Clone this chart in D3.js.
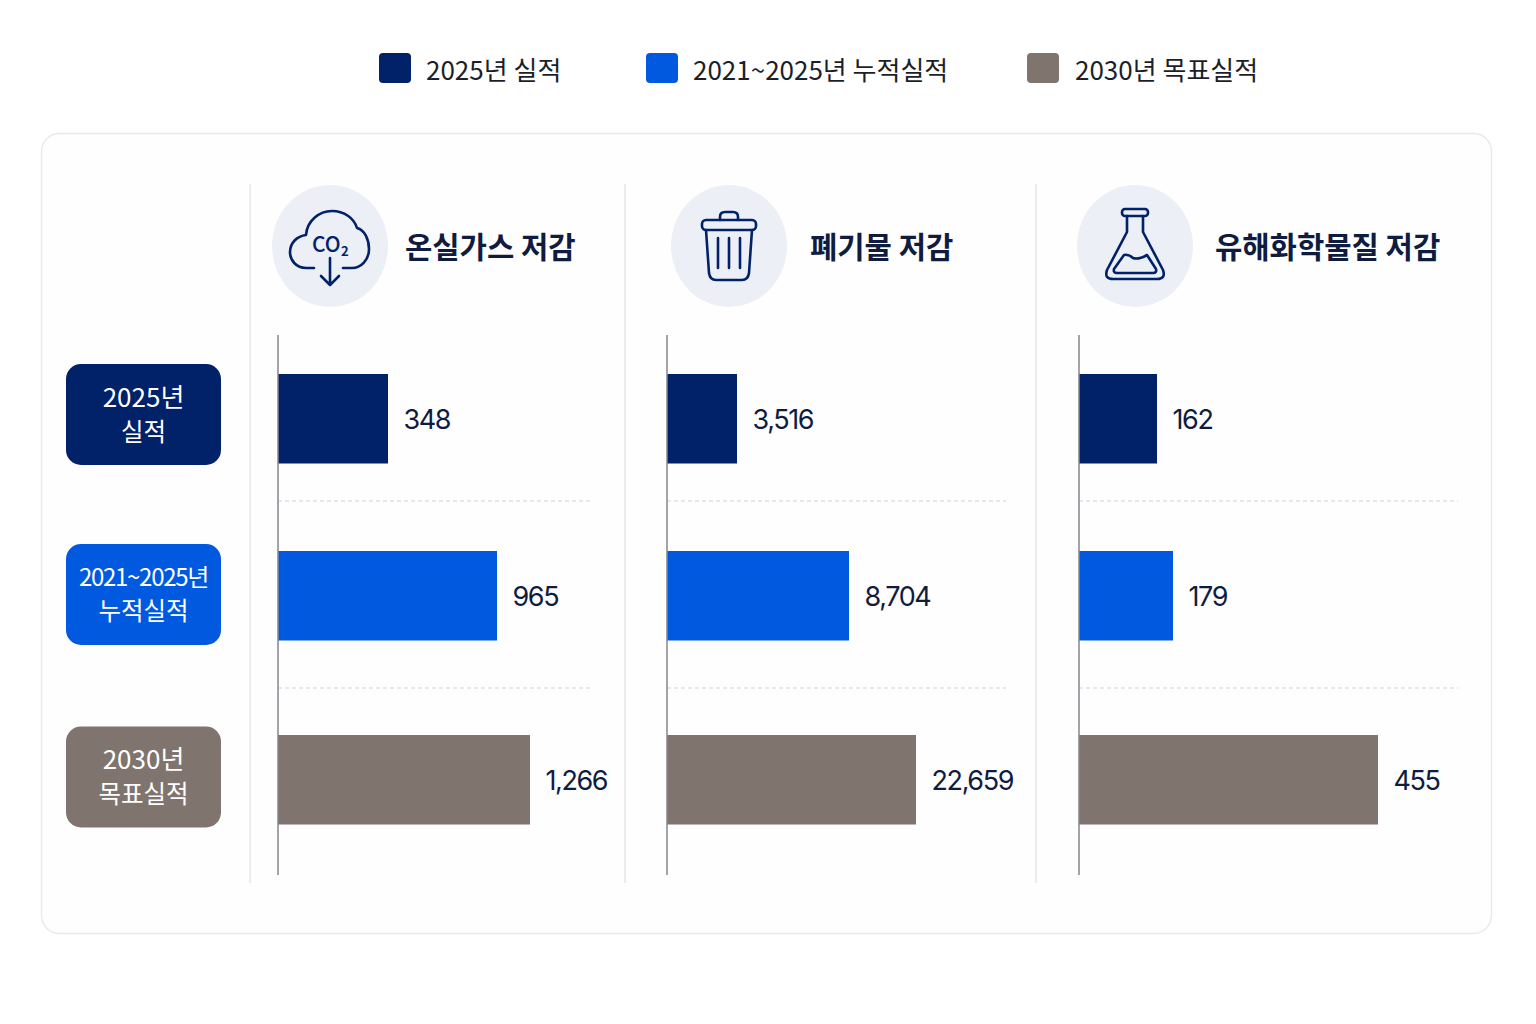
<!DOCTYPE html>
<html>
<head>
<meta charset="utf-8">
<script src="https://cdn.jsdelivr.net/npm/d3@7"></script>
<style>
body { margin: 0; background: #ffffff; }
text { font-family: "Noto Sans CJK KR", "Noto Sans", sans-serif; }
</style>
</head>
<body>
<div id="chart"></div>
<script>
// data
var seriesNames = ["2025년 실적", "2021~2025년 누적실적", "2030년 목표실적"];
var pillLines = [["2025년", "실적"], ["2021~2025년", "누적실적"], ["2030년", "목표실적"]];
var seriesColors = ["#012169", "#0059de", "#7f756e"];
var panelTitles = ["온실가스 저감", "폐기물 저감", "유해화학물질 저감"];
var ghgValues = [348, 965, 1266];
var wasteValues = [3516, 8704, 22659];
var chemValues = [162, 179, 455];

// the source bars are not proportional to their numbers, so each panel
// gets a polylinear scale with one stop per value
var barStops = [[110, 219, 252], [70, 182, 249], [78, 94, 299]];

var width = 1536, height = 1024;

var svg = d3.select("#chart").append("svg")
    .attr("width", width)
    .attr("height", height)
    .style("display", "block");

var navy = "#012169", ink = "#0f1c40";

//Frame
svg.append("rect")
    .attr("x", 41.5).attr("y", 133.5)
    .attr("width", 1450).attr("height", 800)
    .attr("rx", 18)
    .attr("fill", "#fefefe")
    .attr("stroke", "#e9e9f0")
    .attr("stroke-width", 1.5);

//Legend
var legendX = [379, 646, 1027];
var legend = svg.selectAll(".legend")
    .data(seriesNames)
    .enter().append("g")
    .attr("class", "legend")
    .attr("transform", function (d, i) { return "translate(" + legendX[i] + ",53)"; });
legend.append("rect")
    .attr("width", 32).attr("height", 30).attr("rx", 4)
    .attr("fill", function (d, i) { return seriesColors[i]; });
legend.append("text")
    .attr("x", function (d, i) { return i == 2 ? 48 : 47; })
    .attr("y", 26.5)
    .style("font-size", "26px")
    .attr("fill", "#1c1f2a")
    .text(function (d) { return d; });

//Row labels
var rowY = d3.scaleOrdinal().domain(seriesNames).range([374, 551, 735]);
var barH = 89.5;

var pills = svg.selectAll(".pill")
    .data(seriesNames)
    .enter().append("g")
    .attr("class", "pill")
    .attr("transform", function (d) { return "translate(66," + (rowY(d) - 10) + ")"; });
pills.append("rect")
    .attr("width", 155)
    .attr("height", 101)
    .attr("y", function (d, i) { return i == 2 ? 1.5 : (i == 1 ? 3 : 0); })
    .attr("rx", 15)
    .attr("fill", function (d, i) { return seriesColors[i]; });
pills.each(function (d, i) {
    d3.select(this).selectAll("text")
        .data(pillLines[i])
        .enter().append("text")
        .attr("x", 77.5)
        .attr("y", function (t, j) { return (i == 0 ? 43 : (i == 1 ? 44.5 : 44)) + j * 34; })
        .attr("text-anchor", "middle")
        .attr("fill", "#ffffff")
        .style("font-size", function (t, j) { return j == 1 ? "24.5px" : (t.length > 8 ? "24px" : "26px"); })
        .style("letter-spacing", function (t) { return t.length > 8 ? "-1.3px" : "0"; })
        .text(function (t) { return t; });
});

//Separators between the columns
svg.selectAll(".divider")
    .data([250, 625, 1036])
    .enter().append("line")
    .attr("x1", function (d) { return d; })
    .attr("x2", function (d) { return d; })
    .attr("y1", 184).attr("y2", 883)
    .attr("stroke", "#e3e3ea")
    .attr("stroke-width", 1.5);

var panels = [
    { title: panelTitles[0], values: ghgValues, stops: barStops[0], x0: 278, end: 590, cx: 330, titleX: 405, icon: drawCloud },
    { title: panelTitles[1], values: wasteValues, stops: barStops[1], x0: 667, end: 1006, cx: 729, titleX: 810, icon: drawBin },
    { title: panelTitles[2], values: chemValues, stops: barStops[2], x0: 1079, end: 1458, cx: 1135, titleX: 1215, icon: drawFlask }
];

panels.forEach(function (p) {
    var x = d3.scaleLinear()
        .domain([0].concat(p.values))
        .range([p.x0].concat(p.stops.map(function (s) { return p.x0 + s; })));

    //Header
    var head = svg.append("g").attr("transform", "translate(" + p.cx + ",246)");
    head.append("ellipse")
        .attr("rx", 58).attr("ry", 61)
        .attr("fill", "#eceff6");
    p.icon(head);
    svg.append("text")
        .attr("x", p.titleX).attr("y", 258)
        .attr("fill", ink)
        .style("font-size", "29.7px")
        .style("font-weight", 700)
        .text(p.title);

    //Dashed row lines
    svg.selectAll(null)
        .data([501, 688])
        .enter().append("line")
        .attr("x1", p.x0).attr("x2", p.end)
        .attr("y1", function (d) { return d; })
        .attr("y2", function (d) { return d; })
        .attr("stroke", "#cfd0d9")
        .attr("stroke-width", 1.2)
        .attr("stroke-dasharray", "4 3");

    //Bars
    svg.selectAll(null)
        .data(p.values)
        .enter().append("rect")
        .attr("x", x(0))
        .attr("y", function (d, i) { return rowY(seriesNames[i]); })
        .attr("width", function (d) { return x(d) - x(0); })
        .attr("height", barH)
        .attr("fill", function (d, i) { return seriesColors[i]; });

    //Values
    svg.selectAll(null)
        .data(p.values)
        .enter().append("text")
        .attr("x", function (d) { return x(d) + 15.5; })
        .attr("y", function (d, i) { return rowY(seriesNames[i]) + barH / 2 + 10; })
        .attr("fill", ink)
        .style("font-family", "Inter")
        .style("font-size", "27px")
        .style("letter-spacing", "-1.4px")
        .text(function (d) { return d3.format(",")(d); });

    //Baseline
    svg.append("line")
        .attr("x1", p.x0).attr("x2", p.x0)
        .attr("y1", 335).attr("y2", 875)
        .attr("stroke", "#85868e")
        .attr("stroke-width", 1.5);
});

//Icons
function outline(g, d) {
    return g.append("path")
        .attr("d", d)
        .attr("fill", "none")
        .attr("stroke", navy)
        .attr("stroke-width", 2.6)
        .attr("stroke-linecap", "round")
        .attr("stroke-linejoin", "round");
}

function drawCloud(g) {
    outline(g, "M-16,22 H-24 C-34,22 -40,14 -40,6 C-40,-3 -33,-10 -24,-11 C-23,-25 -11,-35 2,-35 C14,-35 24,-28 27,-18 C35,-16 39,-6 39,3 C39,14 31,22 22,22 H13");
    outline(g, "M0,12 V39 M-9,30 L0,39 L9,30");
    g.append("text")
        .attr("x", -18).attr("y", 6)
        .attr("fill", navy)
        .style("font-size", "21px")
        .style("font-weight", 500)
        .text("CO");
    g.append("text")
        .attr("x", 11).attr("y", 10)
        .attr("fill", navy)
        .style("font-size", "13px")
        .style("font-weight", 700)
        .text("2");
}

function drawBin(g) {
    outline(g, "M-9,-26 V-29 Q-9,-34 -4,-34 H4 Q9,-34 9,-29 V-26");
    g.append("rect")
        .attr("x", -27).attr("y", -26)
        .attr("width", 54).attr("height", 10).attr("rx", 4)
        .attr("fill", "none")
        .attr("stroke", navy)
        .attr("stroke-width", 2.6);
    outline(g, "M-23,-16 L-20,27 Q-19,34 -13,34 H13 Q19,34 20,27 L23,-16");
    outline(g, "M-11,-8 V22 M0,-8 V22 M11,-8 V22");
}

function drawFlask(g) {
    outline(g, "M-8,-30 V-14 L-28,24 Q-31,33 -22,33 H22 Q31,33 28,24 L8,-14 V-30");
    g.append("rect")
        .attr("x", -13).attr("y", -37)
        .attr("width", 26).attr("height", 7).attr("rx", 3)
        .attr("fill", "none")
        .attr("stroke", navy)
        .attr("stroke-width", 2.6);
    outline(g, "M-21,23 L-11,9 Q-6,8 -2,12 Q3,14 12,9 L21,23 Q22,27 18,27 H-18 Q-22,27 -21,23 Z");
}
</script>
</body>
</html>
